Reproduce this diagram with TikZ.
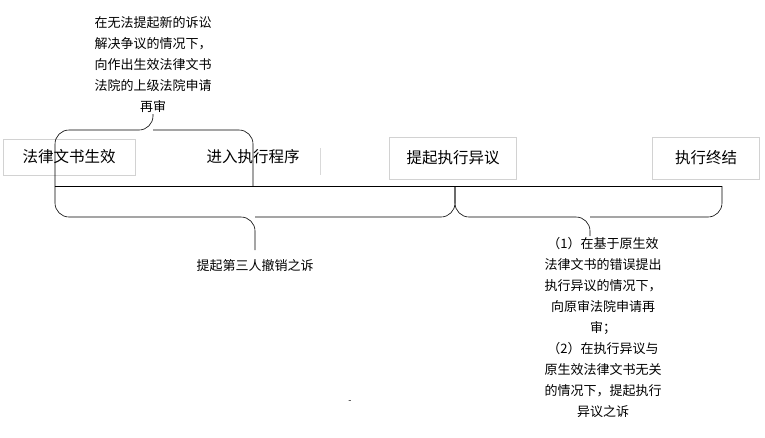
\documentclass[tikz,border=0pt]{standalone}
\usepackage{fontspec}
\setmainfont{Noto Sans CJK SC}
\usetikzlibrary{positioning}
\begin{document}
\begin{tikzpicture}[x=1pt, y=-1pt,
  stage/.style={draw=gray!35, font=\fontsize{15.5}{17}\selectfont, minimum height=36pt, inner xsep=8pt},
  note/.style={align=center, font=\fontsize{13}{21}\selectfont},
  brace/.style={rounded corners=14pt, line width=0.6pt}
  ]
  \useasboundingbox (0,0) rectangle (765,437);

  % stages
  \node[stage, minimum width=132pt] (valid) at (69,157) {法律文书生效};
  \node[stage, draw=none] (enter) at (253,157) {进入执行程序};
  \node[stage, minimum width=127pt, minimum height=42pt] (object) at (453,158) {提起执行异议};
  \node[stage, minimum width=107pt, minimum height=42pt] (finish) at (706,158) {执行终结};
  \draw[gray!30] (320,148) -- (320,175);

  % time line
  \coordinate (l) at (55,186);
  \coordinate (m) at (455,186);
  \coordinate (r) at (722,186);
  \draw[line width=0.6pt] (l) -- (r);

  % top brace
  \coordinate (tl) at (55,186);
  \coordinate (tr) at (253,186);
  \coordinate (ttip) at (153,114);
  \draw[brace] (tl) |- (153,130) -- (ttip);
  \draw[brace] (tr) |- (153,130);
  \node[note, above=-2pt of ttip] (retry) {在无法提起新的诉讼\\解决争议的情况下，\\向作出生效法律文书\\法院的上级法院申请\\再审};

  % bottom braces
  \coordinate (btip) at (255,250);
  \draw[brace] (l) |- (255,217) -- (btip);
  \draw[brace] (m) |- (255,217);
  \node[note, below=6pt of btip] (third) {提起第三人撤销之诉};

  \coordinate (rtip) at (590,236);
  \draw[brace] (m) |- (590,217) -- (rtip);
  \draw[brace] (r) |- (590,217);
  \node[note, below=-2pt of rtip, xshift=13pt] (suit) {（1）在基于原生效\\法律文书的错误提出\\执行异议的情况下，\\向原审法院申请再\\审；\\（2）在执行异议与\\原生效法律文书无关\\的情况下，提起执行\\异议之诉};

  \node[font=\small] (dash) at (350,402) {-};
\end{tikzpicture}
\end{document}
